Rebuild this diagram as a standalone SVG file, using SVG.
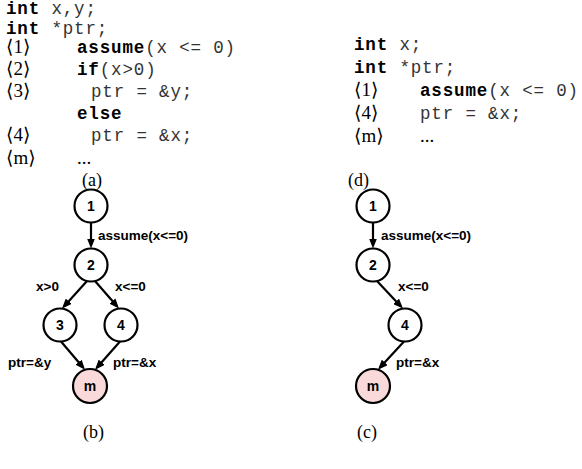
<svg xmlns="http://www.w3.org/2000/svg" width="582" height="469" viewBox="0 0 582 469">
  <style>
    .code { font-family: "Liberation Mono", "DejaVu Sans Mono", monospace; font-size: 17.5px; letter-spacing: 0.85px; fill: #333; }
    .kw { font-weight: bold; fill: #000; }
    .lbl { font-family: "Liberation Serif", "DejaVu Serif", serif; font-size: 19px; fill: #000; }
    .cap { font-family: "Liberation Serif", "DejaVu Serif", serif; font-size: 18px; fill: #000; }
    .node circle { fill: #fff; stroke: #000; stroke-width: 2.2; }
    .node.final circle { fill: #f9d9d9; }
    .node text { font-family: "Liberation Sans", Arial, sans-serif; font-weight: bold; font-size: 14px; text-anchor: middle; fill: #000; }
    .edges line { stroke: #000; stroke-width: 2.2; marker-end: url(#ah); }
    .elbl { font-family: "Liberation Sans", Arial, sans-serif; font-weight: bold; font-size: 13.5px; fill: #000; }
  </style>
  <defs>
    <marker id="ah" viewBox="0 0 10 8" refX="7" refY="4" markerWidth="10" markerHeight="8" markerUnits="userSpaceOnUse" orient="auto">
      <path d="M0,0 L10,4 L0,8 z" fill="#000"/>
    </marker>
  </defs>

  <!-- program (a) -->
  <g id="code-a">
    <text class="code" x="6" y="14"><tspan class="kw">int</tspan> x,y;</text>
    <text class="code" x="6" y="34"><tspan class="kw">int</tspan> *ptr;</text>
    <text class="lbl" x="6" y="53">⟨1⟩</text>
    <text class="code" x="77" y="53"><tspan class="kw">assume</tspan>(x &lt;= 0)</text>
    <text class="lbl" x="6" y="75">⟨2⟩</text>
    <text class="code" x="77" y="75"><tspan class="kw">if</tspan>(x&gt;0)</text>
    <text class="lbl" x="6" y="97">⟨3⟩</text>
    <text class="code" x="91" y="97">ptr = &amp;y;</text>
    <text class="code kw" x="77" y="119">else</text>
    <text class="lbl" x="6" y="141">⟨4⟩</text>
    <text class="code" x="91" y="141">ptr = &amp;x;</text>
    <text class="lbl" x="6" y="164">⟨m⟩</text>
    <text class="lbl" x="77" y="164">...</text>
    <text class="cap" x="82" y="186">(a)</text>
  </g>

  <!-- program (d) -->
  <g id="code-d">
    <text class="code" x="354" y="50"><tspan class="kw">int</tspan> x;</text>
    <text class="code" x="354" y="73"><tspan class="kw">int</tspan> *ptr;</text>
    <text class="lbl" x="354" y="96">⟨1⟩</text>
    <text class="code" x="420" y="96"><tspan class="kw">assume</tspan>(x &lt;= 0)</text>
    <text class="lbl" x="354" y="119">⟨4⟩</text>
    <text class="code" x="420" y="119">ptr = &amp;x;</text>
    <text class="lbl" x="354" y="142">⟨m⟩</text>
    <text class="lbl" x="420" y="142">...</text>
    <text class="cap" x="348" y="186">(d)</text>
  </g>

  <!-- connectors -->
  <g class="edges">
    <line x1="91" y1="222.5" x2="91" y2="245.5"/>
    <line x1="87" y1="281" x2="64" y2="306.4"/>
    <line x1="95" y1="281" x2="117" y2="306.3"/>
    <line x1="61" y1="341.5" x2="83.1" y2="367.5"/>
    <line x1="120" y1="341.5" x2="97" y2="367.5"/>

    <line x1="373" y1="222.5" x2="373" y2="245.5"/>
    <line x1="377" y1="281" x2="400.9" y2="306.4"/>
    <line x1="404" y1="341.5" x2="380" y2="367.5"/>
  </g>

  <!-- edge labels -->
  <g id="edge-labels">
    <text class="elbl" x="98" y="240">assume(x&lt;=0)</text>
    <text class="elbl" x="36" y="291">x&gt;0</text>
    <text class="elbl" x="115" y="291">x&lt;=0</text>
    <text class="elbl" x="8" y="367">ptr=&amp;y</text>
    <text class="elbl" x="113" y="367">ptr=&amp;x</text>

    <text class="elbl" x="381" y="240">assume(x&lt;=0)</text>
    <text class="elbl" x="398" y="291">x&lt;=0</text>
    <text class="elbl" x="396" y="367">ptr=&amp;x</text>
  </g>

  <!-- graph (b) -->
  <g id="b-n1" class="node"><circle cx="91" cy="206" r="16.5"/><text x="91" y="211">1</text></g>
  <g id="b-n2" class="node"><circle cx="91" cy="265" r="16.5"/><text x="91" y="270">2</text></g>
  <g id="b-n3" class="node"><circle cx="60" cy="325" r="16.5"/><text x="60" y="330">3</text></g>
  <g id="b-n4" class="node"><circle cx="121" cy="325" r="16.5"/><text x="121" y="330">4</text></g>
  <g id="b-nm" class="node final"><circle cx="90" cy="386" r="17"/><text x="90" y="391">m</text></g>
  <text class="cap" x="83" y="438">(b)</text>

  <!-- graph (c) -->
  <g id="c-n1" class="node"><circle cx="373" cy="206" r="16.5"/><text x="373" y="211">1</text></g>
  <g id="c-n2" class="node"><circle cx="373" cy="265" r="16.5"/><text x="373" y="270">2</text></g>
  <g id="c-n4" class="node"><circle cx="405" cy="325" r="16.5"/><text x="405" y="330">4</text></g>
  <g id="c-nm" class="node final"><circle cx="373" cy="386" r="17"/><text x="373" y="391">m</text></g>
  <text class="cap" x="357" y="438">(c)</text>
</svg>
